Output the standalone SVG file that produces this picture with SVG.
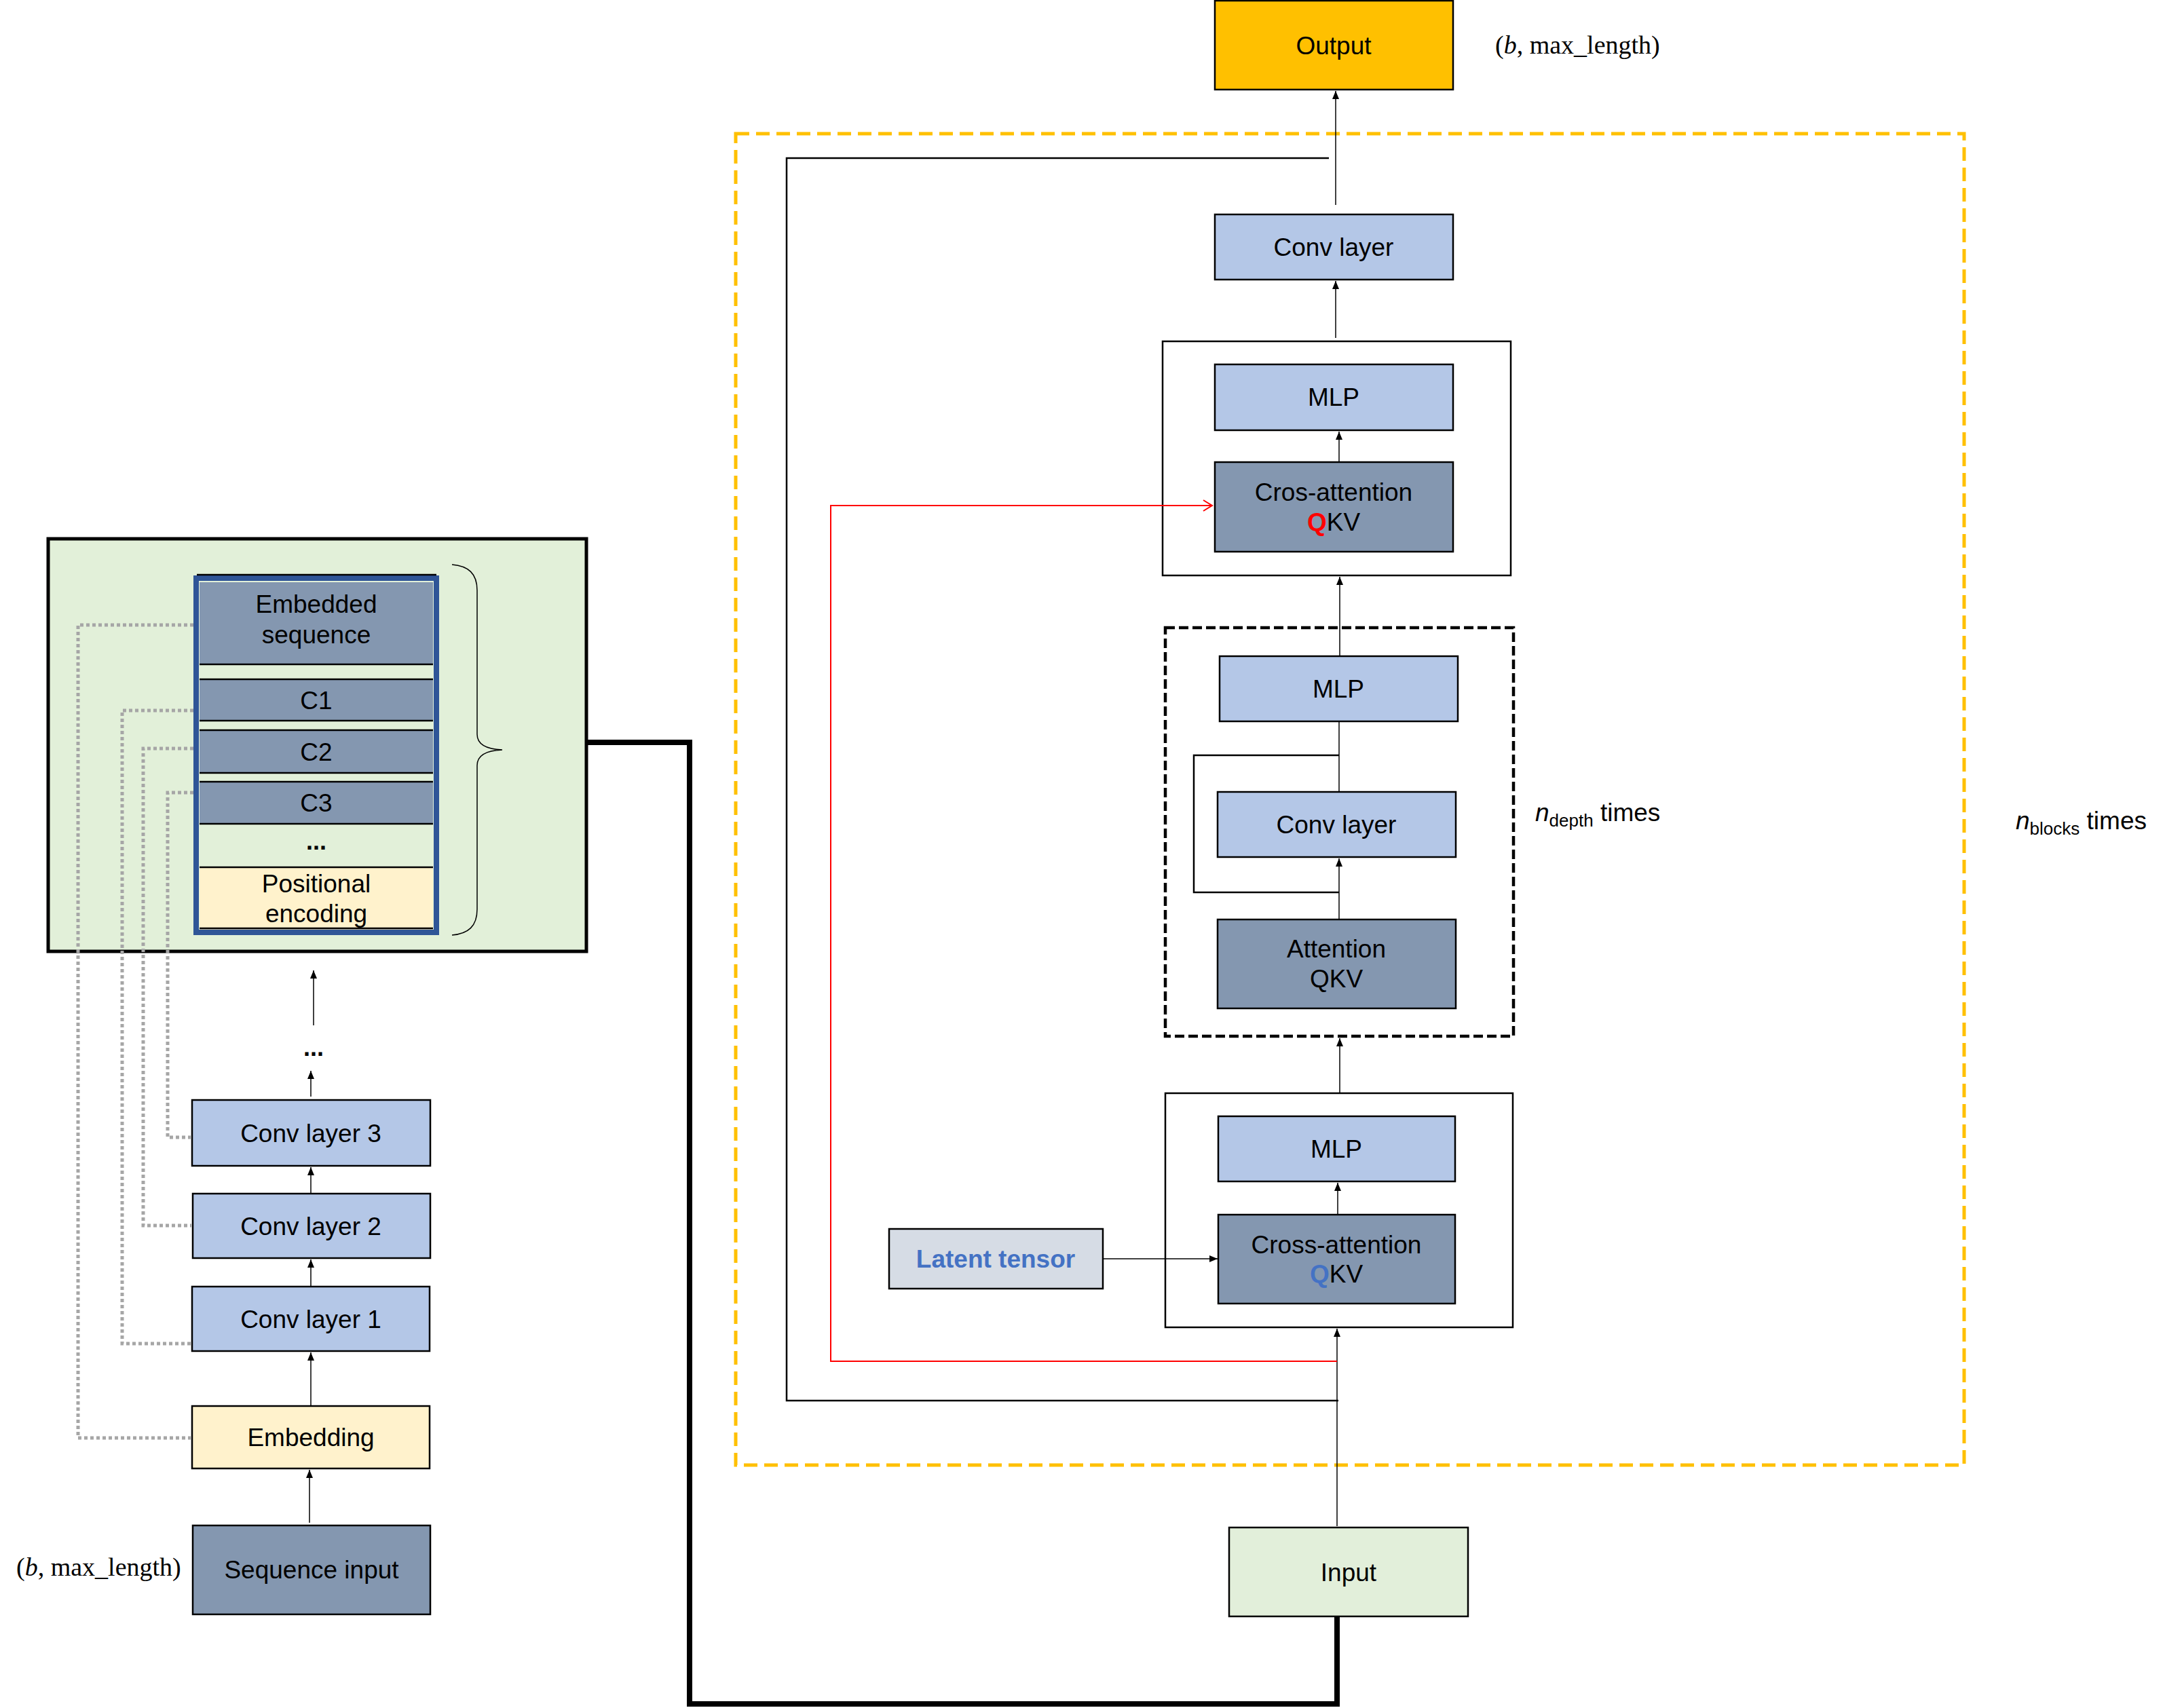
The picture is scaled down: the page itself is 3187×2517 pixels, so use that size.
<svg xmlns="http://www.w3.org/2000/svg" width="3187" height="2517" viewBox="0 0 3187 2517">
<defs>
<style>
.box{stroke:#000;stroke-width:2.5}
.lb{fill:#B4C7E7}
.db{fill:#8497B0}
.ly{fill:#FFF2CC}
.t{font-family:"Liberation Sans",Arial,sans-serif;font-size:37px;fill:#000;text-anchor:middle}
.ts{font-family:"Liberation Sans",Arial,sans-serif;font-size:37px;fill:#000;text-anchor:start}
.dd{font-family:"Liberation Sans",Arial,sans-serif;font-size:36px;font-weight:bold;fill:#000;text-anchor:middle}
.m{font-family:"Liberation Serif","Times New Roman",serif;font-size:38px;fill:#000}
.ln{fill:none;stroke:#000;stroke-width:1.5}
.dot{fill:none;stroke:#A6A6A6;stroke-width:5;stroke-dasharray:5 4}
</style>
<marker id="ah" markerUnits="userSpaceOnUse" markerWidth="14" markerHeight="14" refX="12" refY="6" orient="auto">
<path d="M0,1 L12,6 L0,11 Z" fill="#000"/>
</marker>
<marker id="rh" markerUnits="userSpaceOnUse" markerWidth="20" markerHeight="20" refX="14" refY="9" orient="auto">
<path d="M1,1 L14,9 L1,17" fill="none" stroke="#FF0000" stroke-width="2"/>
</marker>
</defs>

<g id="embed-container">
<rect x="71" y="794" width="793" height="608" fill="#E2F0D9" stroke="#000" stroke-width="5"/>
</g>
<g id="embed-stack">
<rect x="289" y="852" width="354" height="522" fill="#E2F0D9" stroke="#2F5597" stroke-width="8"/>
<rect x="294" y="858" width="344" height="121" class="db"/>
<rect x="294" y="1001" width="344" height="61" class="db"/>
<rect x="294" y="1076" width="344" height="63" class="db"/>
<rect x="294" y="1152" width="344" height="62" class="db"/>
<rect x="294" y="1278" width="344" height="92" class="ly"/>
<g stroke="#000" stroke-width="2.5">
<line x1="294" y1="979" x2="638" y2="979"/>
<line x1="294" y1="1001" x2="638" y2="1001"/>
<line x1="294" y1="1062" x2="638" y2="1062"/>
<line x1="294" y1="1076" x2="638" y2="1076"/>
<line x1="294" y1="1139" x2="638" y2="1139"/>
<line x1="294" y1="1152" x2="638" y2="1152"/>
<line x1="294" y1="1214" x2="638" y2="1214"/>
<line x1="294" y1="1278" x2="638" y2="1278"/>
<line x1="294" y1="1368" x2="638" y2="1368"/>
<line x1="290" y1="847" x2="643" y2="847"/>
</g>
<text class="t" x="466" y="903">Embedded</text>
<text class="t" x="466" y="948">sequence</text>
<text class="t" x="466" y="1045">C1</text>
<text class="t" x="466" y="1121">C2</text>
<text class="t" x="466" y="1196">C3</text>
<text class="dd" x="466" y="1252">...</text>
<text class="t" x="466" y="1315">Positional</text>
<text class="t" x="466" y="1359">encoding</text>
</g>
<g id="brace">
<path d="M666,832 C690,834 703,845 703,870 L703,1082 C703,1097 716,1104 740,1105 C716,1106 703,1113 703,1128 L703,1340 C703,1365 690,1376 666,1378" fill="none" stroke="#000" stroke-width="1.5"/>
</g>

<g id="conv3"><rect x="283" y="1621" width="351" height="97" class="box lb"/><text class="t" x="458" y="1683">Conv layer 3</text></g>
<g id="conv2"><rect x="284" y="1759" width="350" height="95" class="box lb"/><text class="t" x="458" y="1820">Conv layer 2</text></g>
<g id="conv1"><rect x="283" y="1896" width="350" height="95" class="box lb"/><text class="t" x="458" y="1957">Conv layer 1</text></g>
<g id="embedding"><rect x="283" y="2072" width="350" height="92" class="box ly"/><text class="t" x="458" y="2131">Embedding</text></g>
<g id="seq-input"><rect x="284" y="2248" width="350" height="131" class="box db"/><text class="t" x="459" y="2326">Sequence input</text></g>
<g id="left-dots"><text class="dd" x="462" y="1556">...</text></g>
<g id="left-dim"><text class="m" x="24" y="2322">(<tspan font-style="italic">b</tspan>, max_length)</text></g>

<g id="blocks-frame"><rect x="1084" y="197" width="1810" height="1962" fill="none" stroke="#FFC000" stroke-width="5" stroke-dasharray="20 10"/></g>
<g id="output"><rect x="1790" y="1" width="351" height="131" class="box" fill="#FFC000"/><text class="t" x="1965" y="80">Output</text></g>
<g id="out-dim"><text class="m" x="2203" y="79">(<tspan font-style="italic">b</tspan>, max_length)</text></g>
<g id="conv-top"><rect x="1790" y="316" width="351" height="96" class="box lb"/><text class="t" x="1965" y="377">Conv layer</text></g>

<g id="block1">
<rect x="1713" y="503" width="513" height="345" fill="none" stroke="#000" stroke-width="2.5"/>
</g>
<g id="mlp1"><rect x="1790" y="537" width="351" height="97" class="box lb"/><text class="t" x="1965" y="598">MLP</text></g>
<g id="crosattn"><rect x="1790" y="681" width="351" height="132" class="box db"/><text class="t" x="1965" y="738">Cros-attention</text><text class="t" x="1965" y="782"><tspan font-weight="bold" style="fill:#FF0000">Q</tspan>KV</text></g>

<g id="depth-frame"><rect x="1717" y="925" width="513" height="602" fill="none" stroke="#000" stroke-width="4.5" stroke-dasharray="14 6"/></g>
<g id="mlp2"><rect x="1797" y="967" width="351" height="96" class="box lb"/><text class="t" x="1972" y="1028">MLP</text></g>
<g id="conv-mid"><rect x="1794" y="1167" width="351" height="96" class="box lb"/><text class="t" x="1969" y="1228">Conv layer</text></g>
<g id="attention"><rect x="1794" y="1355" width="351" height="131" class="box db"/><text class="t" x="1969" y="1411">Attention</text><text class="t" x="1969" y="1455">QKV</text></g>
<g id="depth-label"><text class="ts" x="2262" y="1210"><tspan font-style="italic">n</tspan><tspan font-size="26" dy="8">depth</tspan><tspan dy="-8"> times</tspan></text></g>
<g id="blocks-label"><text class="ts" x="2970" y="1222"><tspan font-style="italic">n</tspan><tspan font-size="26" dy="8">blocks</tspan><tspan dy="-8"> times</tspan></text></g>

<g id="block3"><rect x="1717" y="1611" width="512" height="345" fill="none" stroke="#000" stroke-width="2.5"/></g>
<g id="mlp3"><rect x="1795" y="1645" width="349" height="96" class="box lb"/><text class="t" x="1969" y="1706">MLP</text></g>
<g id="crossattn"><rect x="1795" y="1790" width="349" height="131" class="box db"/><text class="t" x="1969" y="1847">Cross-attention</text><text class="t" x="1969" y="1890"><tspan font-weight="bold" style="fill:#4472C4">Q</tspan>KV</text></g>
<g id="latent"><rect x="1310" y="1811" width="315" height="88" class="box" fill="#D6DCE5"/><text class="t" x="1467" y="1868" font-weight="bold" style="fill:#4472C4">Latent tensor</text></g>
<g id="input"><rect x="1811" y="2251" width="352" height="131" class="box" fill="#E2EFDA"/><text class="t" x="1987" y="2330">Input</text></g>

<g id="connectors">
<polyline class="dot" points="285,921 115,921 115,2119 281,2119"/>
<polyline class="dot" points="285,1047 180,1047 180,1980 281,1980"/>
<polyline class="dot" points="285,1103 211,1103 211,1806 282,1806"/>
<polyline class="dot" points="285,1168 247,1168 247,1676 281,1676"/>
<line class="ln" x1="456" y1="2244" x2="456" y2="2166" marker-end="url(#ah)"/>
<line class="ln" x1="458" y1="2071" x2="458" y2="1993" marker-end="url(#ah)"/>
<line class="ln" x1="458" y1="1895" x2="458" y2="1856" marker-end="url(#ah)"/>
<line class="ln" x1="458" y1="1758" x2="458" y2="1720" marker-end="url(#ah)"/>
<line class="ln" x1="458" y1="1616" x2="458" y2="1578" marker-end="url(#ah)"/>
<line class="ln" x1="462" y1="1511" x2="462" y2="1430" marker-end="url(#ah)"/>
<polyline points="864,1094 1016,1094 1016,2511 1970,2511 1970,2383" fill="none" stroke="#000" stroke-width="8"/>
<line class="ln" x1="1970" y1="2249" x2="1970" y2="1958" marker-end="url(#ah)"/>
<line class="ln" x1="1971" y1="1789" x2="1971" y2="1743" marker-end="url(#ah)"/>
<line class="ln" x1="1625" y1="1855" x2="1794" y2="1855" marker-end="url(#ah)"/>
<line class="ln" x1="1974" y1="1610" x2="1974" y2="1530" marker-end="url(#ah)"/>
<line class="ln" x1="1973" y1="1354" x2="1973" y2="1265" marker-end="url(#ah)"/>
<line class="ln" x1="1973" y1="1167" x2="1973" y2="1063"/>
<line class="ln" x1="1974" y1="966" x2="1974" y2="850" marker-end="url(#ah)"/>
<line class="ln" x1="1973" y1="680" x2="1973" y2="636" marker-end="url(#ah)"/>
<line class="ln" x1="1968" y1="498" x2="1968" y2="414" marker-end="url(#ah)"/>
<line class="ln" x1="1968" y1="302" x2="1968" y2="134" marker-end="url(#ah)"/>
<polyline points="1973,1113 1759,1113 1759,1315 1973,1315" fill="none" stroke="#000" stroke-width="2.5"/>
<polyline points="1958,233 1159,233 1159,2064 1972,2064" fill="none" stroke="#000" stroke-width="2.5"/>
<polyline points="1970,2006 1224,2006 1224,745 1786,745" fill="none" stroke="#FF0000" stroke-width="2" marker-end="url(#rh)"/>
</g>
</svg>
